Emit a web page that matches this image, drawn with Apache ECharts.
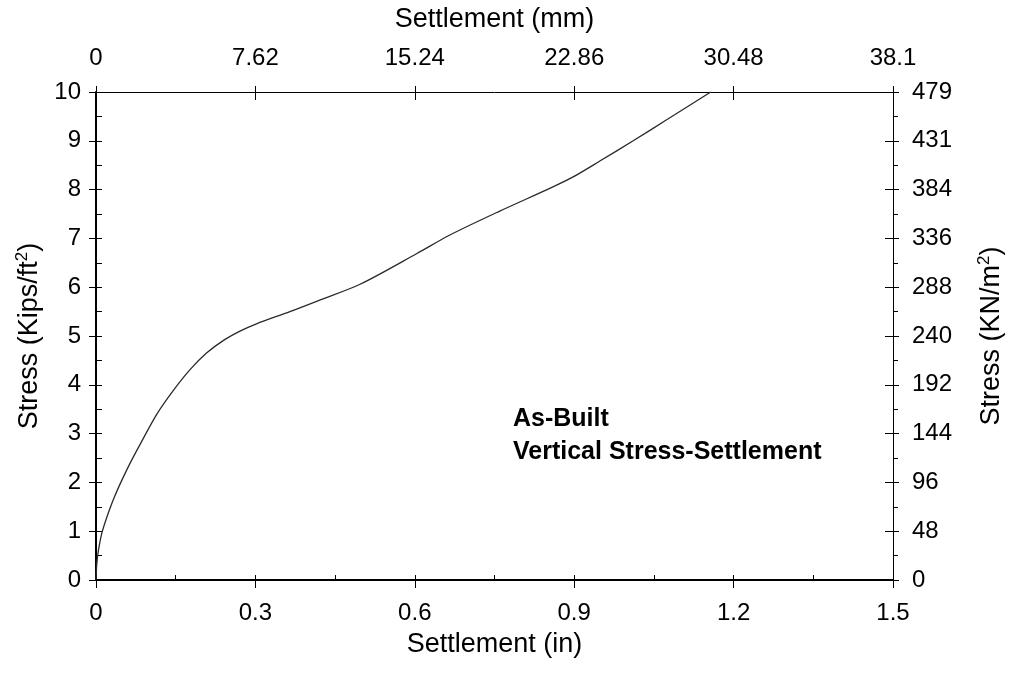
<!DOCTYPE html>
<html>
<head>
<meta charset="utf-8">
<script src="https://cdn.jsdelivr.net/npm/echarts@6/dist/echarts.min.js"></script>
<style>html,body{margin:0;padding:0;background:#fff}#c{width:1009px;height:674px}</style>
</head>
<body>
<div id="c"></div>
<script>
// Data
var settlementIn = [0, 0.0015, 0.0045, 0.0107, 0.018, 0.0264, 0.035, 0.045, 0.064, 0.083, 0.114, 0.146, 0.177, 0.208, 0.240, 0.271, 0.302, 0.365, 0.422, 0.497, 0.604, 0.666, 0.760, 0.855, 0.898, 0.949, 1.011, 1.074, 1.157];
var stressKsf   = [0, 0.33, 0.60, 0.95, 1.21, 1.47, 1.71, 1.96, 2.39, 2.78, 3.39, 3.89, 4.31, 4.65, 4.91, 5.10, 5.25, 5.50, 5.74, 6.06, 6.69, 7.07, 7.56, 8.03, 8.26, 8.59, 9.00, 9.43, 10.0];
var mmTickLabels  = ['0', '7.62', '15.24', '22.86', '30.48', '38.1'];
var kpaTickLabels = ['0', '48', '96', '144', '192', '240', '288', '336', '384', '431', '479'];
var annotationLines = ['As-Built', 'Vertical Stress-Settlement'];

var FONT = 'Liberation Sans, Arial, sans-serif';
var pts = settlementIn.map(function (x, i) { return [x, stressKsf[i]]; });

var chart = echarts.init(document.getElementById('c'), null, {renderer: 'canvas'});
var baseX = {type: 'value', min: 0, max: 1.5, interval: 0.3, splitLine: {show: false}};
var baseY = {type: 'value', min: 0, max: 10, interval: 1, splitLine: {show: false}};
function ext(a, b) { return Object.assign({}, a, b); }
var nameRich = {a: {fontFamily: FONT, fontSize: 27, color: '#000', lineHeight: 31},
                s: {fontFamily: FONT, fontSize: 17, color: '#000', verticalAlign: 'top', lineHeight: 31}};

chart.setOption({
  animation: false,
  backgroundColor: '#fff',
  grid: {left: 96, right: 116, top: 92, bottom: 94, containLabel: false, outerBoundsMode: 'none'},
  xAxis: [
    ext(baseX, {position: 'bottom', name: 'Settlement (in)', nameLocation: 'middle', nameGap: 51,
      nameTextStyle: {fontFamily: FONT, fontSize: 27, color: '#000'},
      axisLine: {onZero: false, lineStyle: {color: '#000', width: 2}},
      axisTick: {inside: false, length: 8, lineStyle: {color: '#000', width: 1}},
      axisLabel: {fontFamily: FONT, fontSize: 24, color: '#000', margin: 21}}),
    ext(baseX, {position: 'bottom',
      axisLine: {show: false, onZero: false},
      axisTick: {inside: true, length: 5, lineStyle: {color: '#000', width: 1}},
      minorTick: {show: true, splitNumber: 2, length: 5, lineStyle: {color: '#000', width: 1}},
      axisLabel: {show: false}}),
    ext(baseX, {position: 'top', name: 'Settlement (mm)', nameLocation: 'middle', nameGap: 59,
      nameTextStyle: {fontFamily: FONT, fontSize: 27, color: '#000'},
      axisLine: {onZero: false, lineStyle: {color: '#000', width: 1}},
      axisTick: {inside: false, length: 6, lineStyle: {color: '#000', width: 1}},
      axisLabel: {fontFamily: FONT, fontSize: 24, color: '#000', margin: 22,
        formatter: function (v) { return mmTickLabels[Math.round(v / 0.3)]; }}}),
    ext(baseX, {position: 'top',
      axisLine: {show: false, onZero: false},
      axisTick: {inside: true, length: 8, lineStyle: {color: '#000', width: 1}},
      axisLabel: {show: false}})
  ],
  yAxis: [
    ext(baseY, {position: 'left', name: '{a|Stress (Kips/ft}{s|2}{a|)}', nameLocation: 'middle', nameGap: 51, nameRotate: 90,
      nameTextStyle: {fontFamily: FONT, fontSize: 27, color: '#000', rich: nameRich},
      axisLine: {onZero: false, lineStyle: {color: '#000', width: 2}},
      axisTick: {inside: false, length: 7, lineStyle: {color: '#000', width: 1}},
      axisLabel: {fontFamily: FONT, fontSize: 24, color: '#000', margin: 15}}),
    ext(baseY, {position: 'left',
      axisLine: {show: false, onZero: false},
      axisTick: {inside: true, length: 6, lineStyle: {color: '#000', width: 1}},
      minorTick: {show: true, splitNumber: 2, length: 6, lineStyle: {color: '#000', width: 1}},
      axisLabel: {show: false}}),
    ext(baseY, {position: 'right', name: '{a|Stress (KN/m}{s|2}{a|)}', nameLocation: 'middle', nameGap: 83, nameRotate: 90,
      nameTextStyle: {fontFamily: FONT, fontSize: 27, color: '#000', rich: nameRich},
      axisLine: {onZero: false, lineStyle: {color: '#000', width: 1}},
      axisTick: {inside: false, length: 6, lineStyle: {color: '#000', width: 1}},
      minorTick: {show: true, splitNumber: 2, length: 5, lineStyle: {color: '#000', width: 1}},
      axisLabel: {fontFamily: FONT, fontSize: 24, color: '#000', margin: 19,
        formatter: function (v) { return kpaTickLabels[Math.round(v)]; }}}),
    ext(baseY, {position: 'right',
      axisLine: {show: false, onZero: false},
      axisTick: {inside: true, length: 8, lineStyle: {color: '#000', width: 1}},
      axisLabel: {show: false}})
  ],
  graphic: [{
    type: 'text', left: 513, top: 403,
    style: {text: annotationLines.join('\n'), fontFamily: FONT, fontSize: 25, fontWeight: 'bold',
      fill: '#000', lineHeight: 33}
  }],
  series: [{
    type: 'line', xAxisIndex: 0, yAxisIndex: 0, data: pts, smooth: 0.3,
    showSymbol: false, symbol: 'none',
    lineStyle: {color: '#2a2a2a', width: 1.3}
  }]
});
</script>
</body>
</html>
